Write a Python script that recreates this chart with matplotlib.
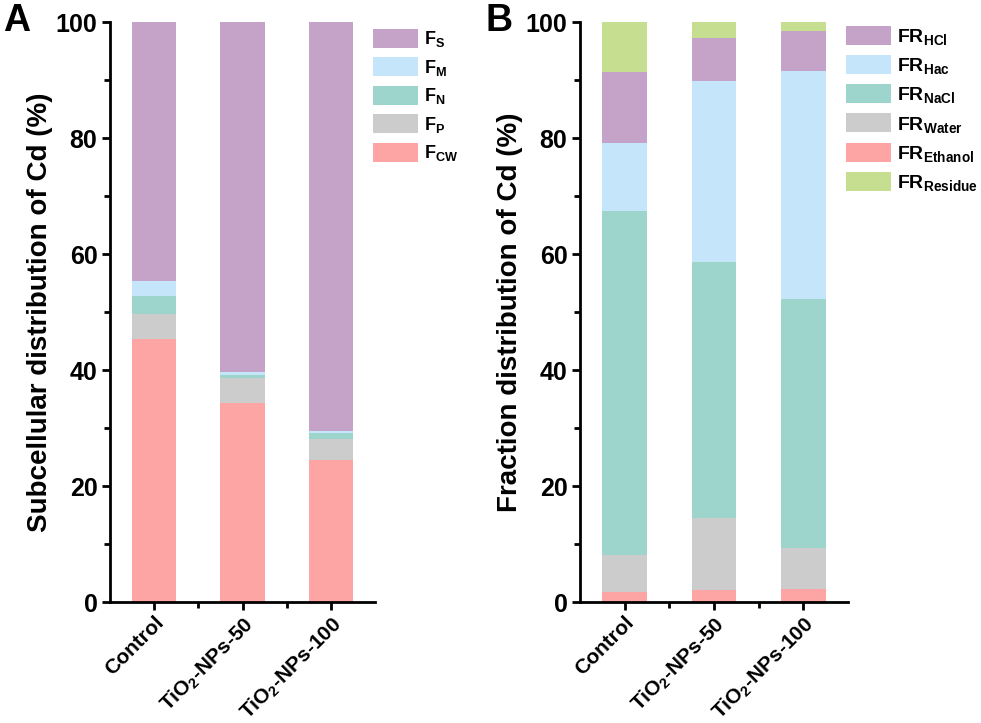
import numpy as np
import matplotlib
matplotlib.use("Agg")
import matplotlib.pyplot as plt
from matplotlib.transforms import ScaledTranslation

plt.rcParams['font.family'] = ['Liberation Sans', 'DejaVu Sans']
plt.rcParams['font.weight'] = 'bold'
plt.rcParams['mathtext.fontset'] = 'custom'
plt.rcParams['mathtext.rm'] = 'Liberation Sans:bold'
plt.rcParams['mathtext.bf'] = 'Liberation Sans:bold'
plt.rcParams['mathtext.it'] = 'Liberation Sans:bold'

# categories
groups = ['Control', r'TiO$_2$-NPs-50', r'TiO$_2$-NPs-100']

# panel A: subcellular distribution (%), bottom to top
a_names = [r'F$_{\mathrm{CW}}$', r'F$_{\mathrm{P}}$', r'F$_{\mathrm{N}}$', r'F$_{\mathrm{M}}$', r'F$_{\mathrm{S}}$']
a_cw = [45.3, 34.3, 24.5]
a_p = [4.4, 4.3, 3.6]
a_n = [3.1, 0.6, 1.0]
a_m = [2.5, 0.4, 0.4]
a_s = [44.7, 60.4, 70.5]
a_colors = ['#fda4a4', '#cccccc', '#9dd5cc', '#c5e5fa', '#c5a3c9']

# panel B: chemical fractions (%), bottom to top
b_names = [r'FR$_{\mathrm{Ethanol}}$', r'FR$_{\mathrm{Water}}$', r'FR$_{\mathrm{NaCl}}$',
           r'FR$_{\mathrm{Hac}}$', r'FR$_{\mathrm{HCl}}$', r'FR$_{\mathrm{Residue}}$']
b_eth = [1.8, 2.0, 2.3]
b_water = [6.3, 12.4, 7.0]
b_nacl = [59.4, 44.3, 43.0]
b_hac = [11.6, 31.1, 39.3]
b_hcl = [12.2, 7.4, 6.8]
b_res = [8.7, 2.8, 1.6]
b_colors = ['#fda4a4', '#cccccc', '#9dd5cc', '#c5e5fa', '#c5a3c9', '#c6de90']

W, H = 981, 723


def stacked(ax, series, names, colors, ylabel, legend_order, leg_xy, leg_fs):
    x = np.arange(len(groups))
    bottom = np.zeros(len(groups))
    handles = []
    for vals, nm, c in zip(series, names, colors):
        h = ax.bar(x, vals, 0.5, bottom=bottom, color=c, label=nm, linewidth=0)
        handles.append(h)
        bottom += np.array(vals)
    ax.set_xlim(-0.5, 2.5)
    ax.set_ylim(0, 100)
    ax.set_yticks([0, 20, 40, 60, 80, 100])
    ax.set_yticks(np.arange(10, 100, 20), minor=True)
    ax.set_xticks(x)
    ax.set_xticks([0.5, 1.5], minor=True)
    labels = ax.set_xticklabels(groups, rotation=45, ha='right', va='top',
                                rotation_mode='anchor', fontsize=15)
    # nudge the slanted labels a little to the right, as in the original
    shift = ScaledTranslation(9 / 100, 0, fig.dpi_scale_trans)
    for lab in labels:
        lab.set_transform(lab.get_transform() + shift)
    ax.tick_params(axis='x', which='major', pad=2)
    ax.tick_params(axis='y', labelsize=18, pad=3)
    ax.tick_params(which='major', length=6, width=2, direction='out')
    ax.tick_params(which='minor', length=4, width=2, direction='out')
    for s in ['top', 'right']:
        ax.spines[s].set_visible(False)
    for s in ['left', 'bottom']:
        ax.spines[s].set_linewidth(2)
    ax.set_ylabel(ylabel, fontsize=20, fontweight='bold', labelpad=2)
    hs = [handles[i] for i in legend_order]
    ls = [names[i] for i in legend_order]
    em = leg_fs * 100 / 72.0
    ax.legend(hs, ls, loc='upper left', bbox_to_anchor=(leg_xy[0] / W, 1 - leg_xy[1] / H),
              bbox_transform=fig.transFigure, frameon=False,
              fontsize=leg_fs, handlelength=45 / em, handleheight=22 / em,
              labelspacing=8 / em, handletextpad=6 / em, borderaxespad=0, borderpad=0)


fig = plt.figure(figsize=(W / 100, H / 100), dpi=100)
axA = fig.add_axes([110 / W, 121 / H, 265 / W, 580 / H])
axB = fig.add_axes([580 / W, 121 / H, 268 / W, 580 / H])

stacked(axA, [a_cw, a_p, a_n, a_m, a_s], a_names, a_colors,
        'Subcellular distribution of Cd (%)', [4, 3, 2, 1, 0], (373, 29), 13)
stacked(axB, [b_eth, b_water, b_nacl, b_hac, b_hcl, b_res], b_names, b_colors,
        'Fraction distribution of Cd (%)', [4, 3, 2, 1, 0, 5], (846, 26), 14)

fig.text(3 / W, 1 - 3 / H, 'A', fontsize=27, fontweight='bold', va='top', ha='left')
fig.text(486 / W, 1 - 3 / H, 'B', fontsize=27, fontweight='bold', va='top', ha='left')

fig.savefig('out.png', dpi=100)
